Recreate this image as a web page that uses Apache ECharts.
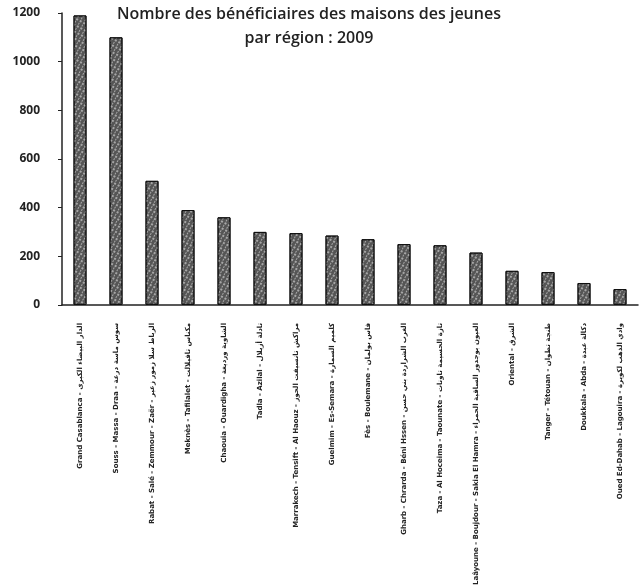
<!DOCTYPE html>
<html>
<head>
<meta charset="utf-8">
<script src="https://cdn.jsdelivr.net/npm/echarts@6/dist/echarts.min.js"></script>
<style>
  html, body { margin: 0; padding: 0; background: #fff; }
  #chart { width: 640px; height: 588px; }
</style>
</head>
<body>
<div id="chart"></div>
<script>
// régions (fr - ar)
var regions = [
  "Grand Casablanca - الدار البيضاء الكبرى",
  "Souss - Massa - Draa - سوس ماسة درعة",
  "Rabat - Salé - Zemmour - Zaër - الرباط سلا زمور زعير",
  "Meknès - Tafilalet - مكناس تافيلالت",
  "Chaouia - Ouardigha - الشاوية ورديغة",
  "Tadla - Azilal - تادلة أزيلال",
  "Marrakech - Tensift - Al Haouz - مراكش تانسيفت الحوز",
  "Guelmim - Es-Semara - كلميم السمارة",
  "Fès - Boulemane - فاس بولمان",
  "Gharb - Chrarda - Béni Hssen - الغرب الشراردة بني حسن",
  "Taza - Al Hoceima - Taounate - تازة الحسيمة تاونات",
  "Laâyoune - Boujdour - Sakia El Hamra - العيون بوجدور الساقية الحمراء",
  "Oriental - الشرق",
  "Tanger - Tétouan - طنجة تطوان",
  "Doukkala - Abda - دكالة عبدة",
  "Oued Ed-Dahab - Lagouira - وادي الذهب لكويرة"
];
var beneficiaires = [1190, 1100, 510, 390, 360, 300, 295, 285, 270, 250, 245, 215, 140, 135, 90, 65];
var yTicks = [0, 200, 400, 600, 800, 1000, 1200];

var chart = echarts.init(document.getElementById("chart"));
chart.setOption({
  animation: false,
  title: {
    text: "Nombre des bénéficiaires des maisons des jeunes\npar région : 2009",
    left: 304,
    top: -3,
    textAlign: "center",
    textStyle: {
      fontFamily: "Open Sans",
      fontSize: 16,
      fontWeight: 600,
      color: "#222",
      lineHeight: 24
    }
  },
  grid: { left: 62, right: 2, top: 13, bottom: 283 },
  xAxis: {
    type: "category",
    data: regions,
    axisLine: { lineStyle: { color: "#222", width: 1.5 } },
    axisTick: { show: false },
    axisLabel: {
      rotate: 90,
      interval: 0,
      margin: 18,
      fontSize: 7,
      fontWeight: "bold",
      fontFamily: "DejaVu Sans",
      color: "#222"
    }
  },
  yAxis: {
    type: "value",
    min: yTicks[0],
    max: yTicks[yTicks.length - 1],
    interval: 200,
    axisLine: { show: true, lineStyle: { color: "#222", width: 1.5 } },
    axisTick: { show: true, length: 4, lineStyle: { color: "#222" } },
    splitLine: { show: false },
    axisLabel: {
      margin: 22,
      fontSize: 12,
      fontWeight: "bold",
      fontFamily: "Open Sans",
      color: "#222",
      formatter: function (v) { return String(v); }
    }
  },
  series: [{
    type: "bar",
    data: beneficiaires,
    barWidth: 13,
    itemStyle: {
      color: "#555",
      borderColor: "#111",
      borderWidth: 1,
      decal: {
        symbol: "rect",
        symbolSize: 0.8,
        color: "rgba(255,255,255,0.8)",
        dashArrayX: [[2, 2], [1, 3]],
        dashArrayY: [2, 1],
        rotation: 0.5
      }
    }
  }]
});
</script>
</body>
</html>
